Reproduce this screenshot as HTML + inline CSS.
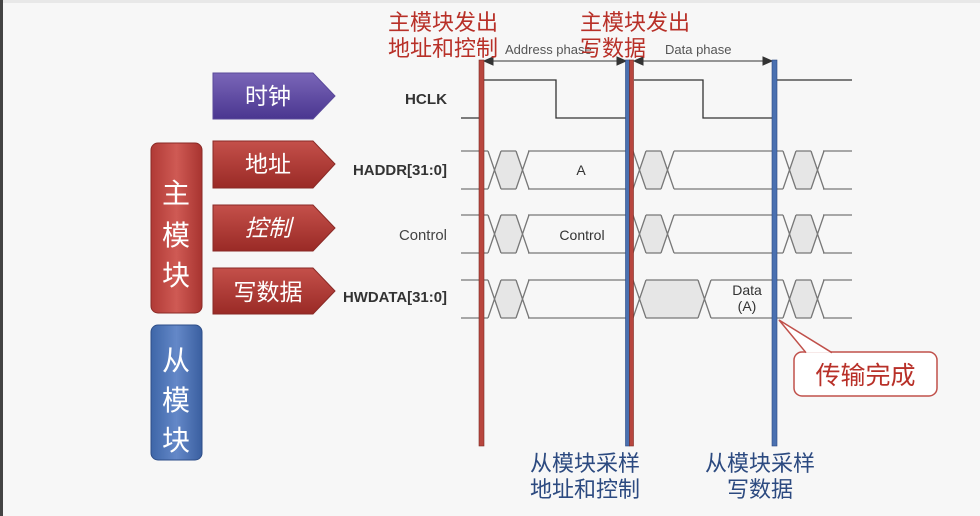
<!DOCTYPE html>
<html><head><meta charset="utf-8"><style>
html,body{margin:0;padding:0;background:#f7f7f7;}
svg{display:block}
.cn{font-family:"Liberation Sans","Noto Sans CJK SC",sans-serif;}
</style></head><body>
<svg width="980" height="516" viewBox="0 0 980 516" xmlns="http://www.w3.org/2000/svg">
<defs>
<linearGradient id="gp" x1="0" y1="0" x2="0" y2="1"><stop offset="0" stop-color="#7a66b8"/><stop offset="1" stop-color="#4a3690"/></linearGradient>
<linearGradient id="gr" x1="0" y1="0" x2="0" y2="1"><stop offset="0" stop-color="#c4504a"/><stop offset="1" stop-color="#9a2a26"/></linearGradient>
<linearGradient id="gr2" x1="0" y1="0" x2="1" y2="0"><stop offset="0" stop-color="#b03a36"/><stop offset="0.5" stop-color="#cf5a54"/><stop offset="1" stop-color="#a83430"/></linearGradient>
<linearGradient id="gb" x1="0" y1="0" x2="1" y2="0"><stop offset="0" stop-color="#3e66a8"/><stop offset="0.5" stop-color="#6488c8"/><stop offset="1" stop-color="#3a5fa0"/></linearGradient>
<g id="xx">
<polygon points="6.5,19 13,0 28,0 34.5,19 28,38 13,38" fill="#e6e6e6"/>
<path d="M0,0 L13,38 M0,38 L13,0 M28,0 L41,38 M28,38 L41,0 M13,0 L28,0 M13,38 L28,38" stroke="#777" stroke-width="1.3" fill="none"/>
</g>
</defs>
<rect x="0" y="0" width="980" height="516" fill="#f7f7f7"/>
<rect x="0" y="0" width="980" height="3" fill="#e8e8e8"/>
<rect x="0" y="0" width="3" height="516" fill="#444"/>

<g class="cn" font-size="23" fill="#fff" text-anchor="middle">
<polygon points="213,73 313,73 335,96 313,119 213,119" fill="url(#gp)" stroke="#5a4a9a"/>
<text x="268" y="104">时钟</text>
<polygon points="213,141 313,141 335,164 313,188 213,188" fill="url(#gr)" stroke="#8a2a26"/>
<text x="268" y="172">地址</text>
<polygon points="213,205 313,205 335,228 313,251 213,251" fill="url(#gr)" stroke="#8a2a26"/>
<text x="268" y="236" font-style="italic">控制</text>
<polygon points="213,268 313,268 335,291 313,314 213,314" fill="url(#gr)" stroke="#8a2a26"/>
<text x="268" y="300">写数据</text>
</g>
<g class="cn" font-size="28" fill="#fff" text-anchor="middle">
<rect x="151" y="143" width="51" height="170" rx="7" fill="url(#gr2)" stroke="#8a2a26"/>
<text x="176" y="203">主</text><text x="176" y="245">模</text><text x="176" y="285">块</text>
<rect x="151" y="325" width="51" height="135" rx="7" fill="url(#gb)" stroke="#2e4e88"/>
<text x="176" y="370">从</text><text x="176" y="410">模</text><text x="176" y="450">块</text>
</g>

<g font-family="Liberation Sans, sans-serif" font-size="14.5" fill="#333" text-anchor="end">
<text x="447" y="104" font-weight="bold" textLength="42" lengthAdjust="spacingAndGlyphs">HCLK</text>
<text x="447" y="175" font-weight="bold" textLength="94" lengthAdjust="spacingAndGlyphs">HADDR[31:0]</text>
<text x="447" y="240" fill="#444" textLength="48" lengthAdjust="spacingAndGlyphs">Control</text>
<text x="447" y="302" font-weight="bold" textLength="104" lengthAdjust="spacingAndGlyphs">HWDATA[31:0]</text>
</g>

<path d="M461,118 L484,118 M484,80 L556,80 L556,118 L630,118 M634,80 L703,80 L703,118 L774,118 M777,80 L852,80" stroke="#333" stroke-width="1.3" fill="none"/>

<g stroke="#777" stroke-width="1.3" fill="none">
<path d="M461,151 L488,151 M461,189 L488,189 M528,151 L633,151 M528,189 L633,189 M674,151 L783,151 M674,189 L783,189 M823,151 L852,151 M823,189 L852,189"/>
<path d="M461,215 L488,215 M461,253 L488,253 M528,215 L633,215 M528,253 L633,253 M674,215 L783,215 M674,253 L783,253 M823,215 L852,215 M823,253 L852,253"/>
<path d="M461,280 L488,280 M461,318 L488,318 M528,280 L633,280 M528,318 L633,318 M711,280 L783,280 M711,318 L783,318 M823,280 L852,280 M823,318 L852,318"/>
</g>
<use href="#xx" x="488" y="151"/><use href="#xx" x="633" y="151"/><use href="#xx" x="783" y="151"/>
<use href="#xx" x="488" y="215"/><use href="#xx" x="633" y="215"/><use href="#xx" x="783" y="215"/>
<use href="#xx" x="488" y="280"/><use href="#xx" x="783" y="280"/>
<polygon points="639.5,299 646,280 698,280 704.5,299 698,318 646,318" fill="#e6e6e6"/>
<path d="M633,280 L646,318 M633,318 L646,280 M646,280 L698,280 M646,318 L698,318 M698,280 L711,318 M698,318 L711,280" stroke="#777" stroke-width="1.3" fill="none"/>

<g font-family="Liberation Sans, sans-serif" font-size="14" fill="#333" text-anchor="middle">
<text x="581" y="175">A</text>
<text x="582" y="240">Control</text>
<text x="747" y="295">Data</text>
<text x="747" y="311">(A)</text>
</g>

<g stroke="#333" stroke-width="1" fill="#333">
<line x1="486" y1="61" x2="625" y2="61"/>
<polygon points="484,61 493,57 493,65"/><polygon points="626,61 617,57 617,65"/>
<line x1="636" y1="61" x2="771" y2="61"/>
<polygon points="634,61 643,57 643,65"/><polygon points="772,61 763,57 763,65"/>
</g>
<g font-family="Liberation Sans, sans-serif" font-size="13" fill="#555">
<text x="505" y="54">Address phase</text>
<text x="665" y="54">Data phase</text>
</g>

<rect x="479" y="60" width="5" height="386" fill="#b8463e" stroke="#7a2a24" stroke-width="0.6"/>
<rect x="625.5" y="60" width="4" height="386" fill="#4a70b0" stroke="#2a4680" stroke-width="0.6"/>
<rect x="629.5" y="60" width="4" height="386" fill="#b8463e" stroke="#7a2a24" stroke-width="0.6"/>
<rect x="772" y="60" width="5" height="386" fill="#4a70b0" stroke="#2a4680" stroke-width="0.6"/>

<g class="cn" font-size="22" fill="#b83028">
<text x="388" y="30">主模块发出</text>
<text x="388" y="56">地址和控制</text>
<text x="580" y="30">主模块发出</text>
<text x="580" y="56">写数据</text>
</g>

<rect x="794" y="352" width="143" height="44" rx="8" fill="#fff" stroke="#c0504a" stroke-width="1.5"/>
<path d="M806,352.7 L779,320 L832,352.7" fill="#fff" stroke="#c0504a" stroke-width="1.5"/>
<text x="865.5" y="384" class="cn" font-size="25" fill="#b83028" text-anchor="middle">传输完成</text>

<g class="cn" font-size="22" fill="#2c4a80" text-anchor="middle">
<text x="585" y="471">从模块采样</text>
<text x="585" y="497">地址和控制</text>
<text x="760" y="471">从模块采样</text>
<text x="760" y="497">写数据</text>
</g>
</svg>
</body></html>
